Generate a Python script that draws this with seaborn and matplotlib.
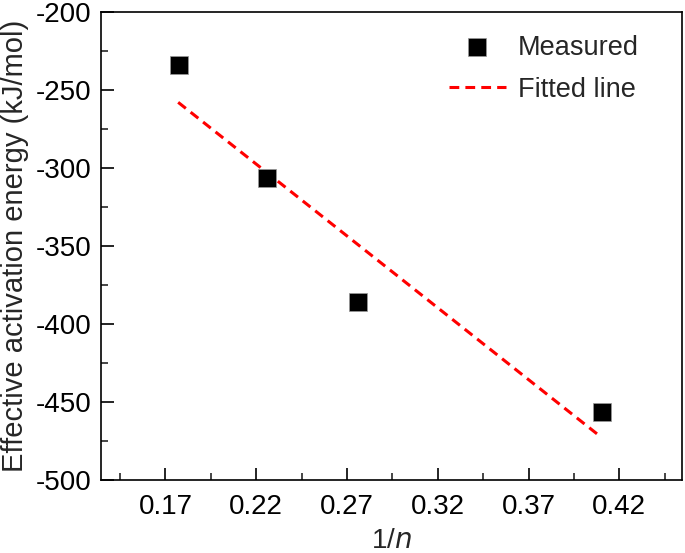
import numpy as np
import pandas as pd
import seaborn as sns
import matplotlib.pyplot as plt
from matplotlib.ticker import MultipleLocator, FixedLocator

# values
inv_n = [0.1777, 0.2262, 0.2760, 0.4104]
energy = [-234.2, -306.3, -386.1, -456.6]
fit_x = [0.1770, 0.4080]
fit_y = [-257.9, -470.7]
x_ticks = [0.17, 0.22, 0.27, 0.32, 0.37, 0.42]

sns.set_style("ticks")
plt.rcParams['font.family'] = ['Liberation Sans', 'DejaVu Sans']
plt.rcParams['axes.unicode_minus'] = False

measured = pd.DataFrame({'x': inv_n, 'y': energy})
fitted = pd.DataFrame({'x': fit_x, 'y': fit_y})

fig, ax = plt.subplots(figsize=(6.85, 5.53), dpi=100)
fig.subplots_adjust(left=101/685, right=682/685, bottom=1-480/553, top=1-12/553)

sns.lineplot(data=fitted, x='x', y='y', ax=ax, color='red', lw=2.2,
             dashes=False, label='Fitted line', zorder=2)
ax.lines[0].set_dashes((3.2, 2.0))
sns.scatterplot(data=measured, x='x', y='y', ax=ax, marker='s', s=165,
                color='black', edgecolor='#999999', linewidth=0.5,
                label='Measured', zorder=3)

ax.set_xlim(0.1345, 0.4545)
ax.set_ylim(-500, -200)
ax.xaxis.set_major_locator(FixedLocator(x_ticks))
ax.xaxis.set_minor_locator(FixedLocator([t - 0.025 for t in x_ticks] + [0.445]))
ax.set_xticklabels([f"{t:.2f}" for t in x_ticks])
ax.yaxis.set_major_locator(MultipleLocator(50))
ax.yaxis.set_minor_locator(MultipleLocator(25))
ax.tick_params(which='major', direction='in', length=9, width=1.2, labelsize=20, pad=7, colors='black')
ax.tick_params(which='minor', direction='in', length=5, width=1.2)
ax.tick_params(axis='x', which='major', pad=10)
for s in ax.spines.values():
    s.set_visible(True)
    s.set_linewidth(1.2)
    s.set_color('black')

ax.set_xlabel('1/$\\mathit{n}$', fontsize=20, labelpad=6)
ax.set_ylabel('Effective activation energy (kJ/mol)', fontsize=21, labelpad=5)

h, l = ax.get_legend_handles_labels()
ax.legend(h[::-1], l[::-1], loc='upper left', bbox_to_anchor=(0.58, 0.975),
          frameon=False, fontsize=19.5, handlelength=2.1, handletextpad=0.45,
          labelspacing=0.6, borderaxespad=0)

fig.savefig('out.png', dpi=100)
